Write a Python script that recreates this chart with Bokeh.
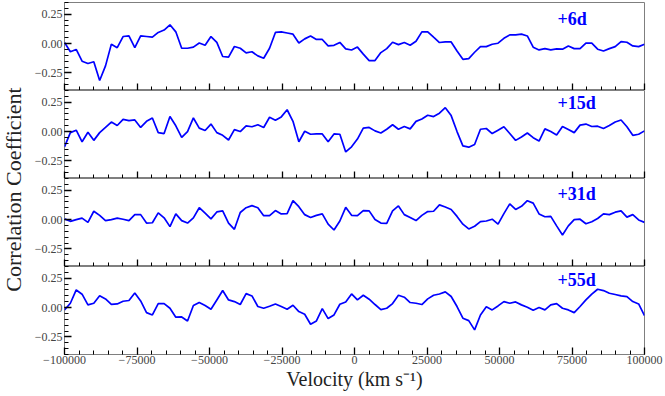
import numpy as np
from bokeh.plotting import figure
from bokeh.layouts import row, column
from bokeh.models import FixedTicker, CustomJSTickFormatter, CustomLabelingPolicy, Label, Range1d
from bokeh.embed import file_html
from bokeh.resources import INLINE

# ---------------- data ----------------
epochs = ["+6d", "+15d", "+31d", "+55d"]

corr_6d = [0.01, -0.07, -0.05, -0.15, -0.17, -0.155, -0.315, -0.19, -0.005, -0.035,
           0.06, 0.065, -0.035, 0.065, 0.06, 0.055, 0.095, 0.115, 0.16, 0.10,
           -0.04, -0.04, -0.03, 0.005, -0.015, 0.06, 0.01, -0.11, -0.115, -0.025,
           -0.04, -0.08, -0.07, -0.105, -0.125, -0.04, 0.095, 0.10, 0.09, 0.08,
           0.005, 0.04, 0.065, 0.035, 0.035, -0.02, -0.015, 0.01,
           -0.045, -0.055, -0.03, -0.09, -0.145, -0.145, -0.077, -0.043, 0.011, -0.009,
           0.009, -0.014, 0.02, 0.10, 0.10, 0.054, 0.009, 0.014, 0.014, -0.063,
           -0.134, -0.128, -0.074, -0.026, -0.026, -0.006, 0.003, 0.045, 0.074, 0.074,
           0.08, 0.065, -0.031, -0.054, -0.043, -0.054, -0.045, -0.048, -0.02, -0.043,
           -0.043, 0.003, 0.003, -0.048, -0.063, -0.043, -0.026, 0.017, 0.011, -0.02,
           -0.026, -0.006]

corr_15d = [-0.13, -0.009, 0.012, -0.087, -0.006, -0.075, -0.009, 0.035, 0.081, 0.052,
            0.104, 0.093, 0.099, 0.035, 0.087, 0.116, -0.009, -0.017, 0.128, 0.049,
            -0.049, 0.0, 0.116, 0.029, 0.009, 0.064, -0.009, -0.032, -0.072, 0.017,
            0.0, 0.049, 0.041, 0.058, 0.035, 0.122, 0.096, 0.125, 0.186, 0.087,
            -0.087, 0.003, -0.023, -0.02, -0.02, -0.087, -0.02, -0.023,
            -0.174, -0.13, -0.064, 0.029, 0.035, 0.006, -0.012, 0.02, 0.058, 0.02,
            0.043, 0.023, 0.087, 0.107, 0.139, 0.128, 0.157, 0.203, 0.136, 0.0,
            -0.122, -0.133, -0.11, 0.02, 0.026, -0.017, 0.012, 0.041, -0.017, -0.075,
            -0.046, -0.012, -0.052, -0.081, 0.023, 0.0, -0.029, 0.043, 0.017, -0.009,
            0.055, 0.064, 0.043, 0.046, 0.026, 0.052, 0.081, 0.099, 0.041, -0.032,
            -0.023, 0.006]

corr_31d = [0.006, -0.015, 0.0, 0.012, -0.024, 0.071, 0.036, -0.009, 0.0, 0.012,
            0.003, -0.009, 0.042, 0.042, -0.03, -0.027, 0.057, 0.015, -0.06, 0.048,
            -0.009, -0.03, 0.015, 0.101, 0.054, 0.006, 0.065, 0.074, -0.03, -0.083,
            0.06, 0.101, 0.119, 0.101, 0.033, 0.033, 0.077, 0.048, 0.051, 0.161,
            0.11, 0.042, 0.018, 0.036, 0.048, -0.039, -0.089, -0.012,
            0.104, 0.036, 0.033, 0.077, 0.074, 0.0, -0.03, -0.033, 0.074, 0.116,
            0.042, 0.018, -0.009, 0.036, 0.068, 0.071, 0.125, 0.107, 0.086, 0.027,
            -0.039, -0.08, -0.057, -0.018, -0.012, 0.003, -0.039, 0.051, 0.134, 0.086,
            0.113, 0.161, 0.14, 0.048, 0.024, 0.027, -0.054, -0.131, -0.054, 0.0,
            0.003, -0.036, -0.018, 0.009, 0.048, 0.042, 0.063, 0.074, 0.021, 0.042,
            -0.003, -0.024]

corr_55d = [-0.02, 0.037, 0.15, 0.114, 0.023, 0.037, 0.1, 0.074, 0.028, 0.031,
            0.054, 0.06, 0.125, 0.057, -0.043, -0.063, 0.034, 0.034, -0.006, -0.082,
            -0.08, -0.114, 0.017, 0.043, 0.017, -0.014, 0.065, 0.145, 0.065, 0.051,
            0.026, 0.119, 0.099, 0.009, -0.006, 0.011, 0.031, 0.009, -0.014, 0.02,
            -0.034, -0.057, -0.142, -0.114, -0.009, -0.094, -0.063, 0.028,
            0.048, 0.116, 0.065, 0.105, 0.071, 0.026, -0.017, -0.006, 0.034, 0.105,
            0.088, 0.043, 0.037, 0.026, 0.074, 0.105, 0.116, 0.134, 0.094, 0.009,
            -0.091, -0.111, -0.19, -0.063, 0.006, -0.02, 0.014, 0.051, 0.037, 0.048,
            0.023, 0.003, -0.023, 0.0, -0.02, 0.023, 0.034, -0.006, -0.02, -0.043,
            0.009, 0.065, 0.114, 0.156, 0.145, 0.122, 0.111, 0.099, 0.094, 0.051,
            0.031, -0.068]

series = [corr_6d, corr_15d, corr_31d, corr_55d]

# velocity grid (km/s), evenly sampled across the plotted window
velocity = np.linspace(-100000, 100000, len(corr_6d))

x_major = list(range(-100000, 100001, 25000))
x_minor = list(range(-100000, 100001, 5000))
y_major = [-0.25, 0.0, 0.25]
y_minor = [round(-0.40 + 0.05 * i, 2) for i in range(16)]

label_y = [0.213, 0.247, 0.216, 0.239]
label_x = 70000

# ---------------- style ----------------
FONT = "Liberation Serif"
TITLE_W = 26
FRAME_W, FRAME_H = 580, 88
LEFT, RIGHT = 64 - TITLE_W, 19
TOP_FIRST = 2
BOTTOM_LAST = 38
TOTAL_H = TOP_FIRST + 4 * FRAME_H + BOTTOM_LAST

x_range = Range1d(-100000, 100000)
x_fmt = CustomJSTickFormatter(code="return (tick < 0 ? '\u2212' : '') + Math.abs(tick).toFixed(0);")
y_fmt = CustomJSTickFormatter(code="return (tick < 0 ? '\u2212' : '') + Math.abs(tick).toFixed(2);")
hide_labels = CustomLabelingPolicy(code="for (const i of indices) { indices.unset(i); } return indices;")

figs = []
for i, (name, vals, ly) in enumerate(zip(epochs, series, label_y)):
    last = i == len(epochs) - 1
    p = figure(frame_width=FRAME_W, frame_height=FRAME_H,
               x_range=x_range, y_range=Range1d(-0.40, 0.35),
               output_backend="svg", toolbar_location=None,
               min_border_left=LEFT, min_border_right=RIGHT,
               min_border_top=TOP_FIRST if i == 0 else 0, min_border_bottom=0)
    p.grid.visible = False
    p.background_fill_color = "white"
    p.border_fill_color = "white"
    p.outline_line_color = "#7f7f7f"
    p.outline_line_width = 1

    p.line(velocity, vals, line_color="#0000ff", line_width=1.7)

    xa = p.xaxis[0]
    xa.ticker = FixedTicker(ticks=x_major, minor_ticks=x_minor)
    xa.formatter = x_fmt
    xa.axis_line_color = None
    xa.major_tick_in = 7
    xa.major_tick_out = 0
    xa.minor_tick_in = 4
    xa.minor_tick_out = 0
    xa.major_tick_line_color = "black"
    xa.minor_tick_line_color = "black"
    xa.major_tick_line_width = 1.3
    xa.minor_tick_line_width = 1
    if last:
        xa.major_label_text_font = FONT
        xa.major_label_text_font_size = "12px"
        xa.major_label_text_color = "#444444"
        xa.major_label_standoff = 1
        xa.axis_label = "Velocity (km s\u207b\u00b9)"
        xa.axis_label_text_font = FONT
        xa.axis_label_text_font_size = "20px"
        xa.axis_label_text_font_style = "normal"
        xa.axis_label_text_color = "#222222"
        xa.axis_label_standoff = 1
    else:
        xa.major_label_text_font_size = "0px"
        xa.major_label_standoff = 0
        xa.major_label_policy = hide_labels

    ya = p.yaxis[0]
    ya.ticker = FixedTicker(ticks=y_major, minor_ticks=y_minor)
    ya.formatter = y_fmt
    ya.axis_line_color = None
    ya.major_tick_in = 7
    ya.major_tick_out = 0
    ya.minor_tick_in = 4
    ya.minor_tick_out = 0
    ya.major_tick_line_color = "black"
    ya.minor_tick_line_color = "black"
    ya.major_tick_line_width = 1.3
    ya.minor_tick_line_width = 1
    ya.major_label_text_font = FONT
    ya.major_label_text_font_size = "12px"
    ya.major_label_text_color = "#444444"
    ya.major_label_standoff = 2

    p.add_layout(Label(x=label_x, y=ly, text=name, text_color="#0000ff",
                       text_font=FONT, text_font_size="18px", text_font_style="bold",
                       text_align="left", text_baseline="middle"))
    figs.append(p)

# y-axis title, spanning all panels
ylab = figure(width=TITLE_W, height=TOTAL_H, x_range=Range1d(0, TITLE_W), y_range=Range1d(0, TOTAL_H),
              output_backend="svg", toolbar_location=None, min_border=0)
ylab.axis.visible = False
ylab.grid.visible = False
ylab.outline_line_color = None
ylab.background_fill_color = "white"
ylab.border_fill_color = "white"
ylab.add_layout(Label(x=TITLE_W / 2, y=TOTAL_H - 189, text="Correlation Coefficient",
                      angle=90, angle_units="deg", text_align="center", text_baseline="middle",
                      text_font=FONT, text_font_size="22px", text_color="#222222"))

layout = row(ylab, column(*figs))

open("out.html", "w").write(file_html(layout, INLINE))
